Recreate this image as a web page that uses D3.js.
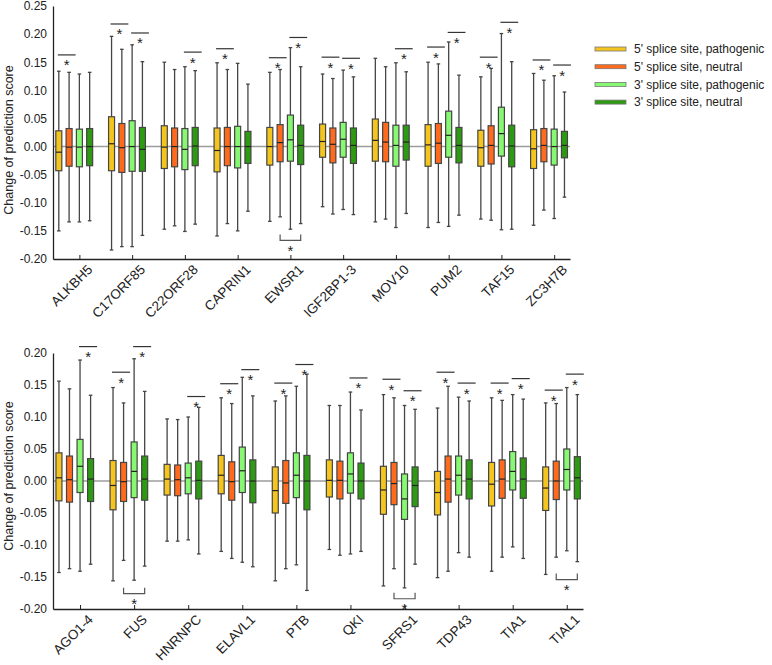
<!DOCTYPE html>
<html>
<head>
<meta charset="utf-8">
<script src="https://cdn.jsdelivr.net/npm/d3@7"></script>
<style>
  body { margin: 0; background: #fff; }
  text { font-family: "Liberation Sans", Arial, sans-serif; fill: #222; }
</style>
</head>
<body>
<div id="chart"></div>
<script>
// each box: [lower whisker, q1, median, q3, upper whisker]
var seriesNames = ["5' splice site, pathogenic", "5' splice site, neutral",
                   "3' splice site, pathogenic", "3' splice site, neutral"];

var topGenes = ["ALKBH5", "C17ORF85", "C22ORF28", "CAPRIN1", "EWSR1",
                "IGF2BP1-3", "MOV10", "PUM2", "TAF15", "ZC3H7B"];
var top5Path = [[-0.150,-0.043,-0.010,0.028,0.134],[-0.184,-0.043,0.005,0.053,0.196],[-0.147,-0.039,-0.001,0.037,0.150],
                [-0.159,-0.045,-0.007,0.033,0.149],[-0.133,-0.033,0.000,0.034,0.132],[-0.107,-0.019,0.009,0.040,0.129],
                [-0.134,-0.026,0.011,0.049,0.157],[-0.144,-0.035,0.003,0.039,0.150],[-0.129,-0.035,-0.002,0.029,0.124],
                [-0.140,-0.039,-0.004,0.030,0.130]];
var top5Neut = [[-0.134,-0.035,-0.001,0.032,0.132],[-0.178,-0.046,-0.002,0.041,0.173],[-0.141,-0.036,0.000,0.033,0.137],
                [-0.137,-0.034,0.000,0.034,0.137],[-0.125,-0.027,0.007,0.039,0.137],[-0.120,-0.029,0.004,0.033,0.121],
                [-0.129,-0.027,0.008,0.043,0.142],[-0.135,-0.030,0.006,0.041,0.147],[-0.131,-0.031,0.002,0.037,0.139],
                [-0.113,-0.027,0.002,0.032,0.118]];
var top3Path = [[-0.134,-0.036,-0.001,0.031,0.129],[-0.178,-0.044,0.000,0.046,0.181],[-0.151,-0.041,-0.005,0.032,0.142],
                [-0.150,-0.038,0.000,0.036,0.148],[-0.147,-0.026,0.012,0.056,0.176],[-0.112,-0.019,0.013,0.043,0.136],
                [-0.144,-0.035,0.002,0.038,0.149],[-0.142,-0.019,0.020,0.063,0.186],[-0.148,-0.017,0.023,0.070,0.201],
                [-0.128,-0.033,0.000,0.031,0.126]];
var top3Neut = [[-0.132,-0.034,0.000,0.032,0.132],[-0.158,-0.044,-0.005,0.034,0.151],[-0.138,-0.034,0.001,0.034,0.135],
                [-0.115,-0.030,0.000,0.027,0.111],[-0.137,-0.032,0.002,0.038,0.142],[-0.121,-0.030,0.002,0.033,0.124],
                [-0.119,-0.024,0.008,0.038,0.133],[-0.122,-0.029,0.002,0.034,0.127],[-0.147,-0.036,0.001,0.038,0.151],
                [-0.090,-0.020,0.002,0.027,0.097]];
// significance marks: bar level over 5' pair, over 3' pair, bracket under neutral pair
var topSig5 = [0.163, 0.218, null, 0.174, 0.158, 0.159, null, 0.177, 0.159, 0.154];
var topSig3 = [null, 0.202, 0.168, null, 0.194, 0.157, 0.174, 0.203, 0.221, 0.145];
var topBracket = [null, null, null, null, -0.167, null, null, null, null, null];

var botGenes = ["AGO1-4", "FUS", "HNRNPC", "ELAVL1", "PTB",
                "QKI", "SFRS1", "TDP43", "TIA1", "TIAL1"];
var bot5Path = [[-0.143,-0.031,0.005,0.044,0.156],[-0.156,-0.045,-0.007,0.032,0.146],[-0.094,-0.022,0.003,0.026,0.097],
                [-0.110,-0.020,0.009,0.040,0.130],[-0.156,-0.050,-0.015,0.022,0.125],[-0.107,-0.025,0.001,0.033,0.118],
                [-0.164,-0.052,-0.014,0.023,0.135],[-0.151,-0.053,-0.018,0.015,0.114],[-0.141,-0.039,-0.005,0.029,0.130],
                [-0.146,-0.046,-0.011,0.022,0.122]];
var bot5Neut = [[-0.137,-0.033,0.002,0.039,0.144],[-0.124,-0.032,-0.001,0.029,0.122],[-0.094,-0.023,0.002,0.025,0.096],
                [-0.121,-0.030,-0.001,0.030,0.121],[-0.137,-0.035,-0.003,0.032,0.133],[-0.116,-0.028,0.001,0.031,0.118],
                [-0.137,-0.037,-0.004,0.029,0.130],[-0.141,-0.033,0.003,0.039,0.148],[-0.119,-0.027,0.003,0.033,0.126],
                [-0.119,-0.029,0.000,0.031,0.121]];
var bot3Path = [[-0.141,-0.018,0.023,0.065,0.189],[-0.155,-0.026,0.015,0.061,0.191],[-0.092,-0.020,0.005,0.028,0.100],
                [-0.127,-0.018,0.016,0.053,0.162],[-0.131,-0.026,0.009,0.044,0.148],[-0.114,-0.019,0.011,0.044,0.139],
                [-0.167,-0.060,-0.028,0.011,0.118],[-0.112,-0.022,0.009,0.039,0.131],[-0.103,-0.014,0.015,0.046,0.135],
                [-0.109,-0.014,0.018,0.050,0.146]];
var bot3Neut = [[-0.130,-0.032,0.003,0.035,0.134],[-0.133,-0.030,0.003,0.039,0.140],[-0.114,-0.028,0.001,0.031,0.115],
                [-0.134,-0.034,0.000,0.033,0.133],[-0.171,-0.045,0.000,0.040,0.167],[-0.110,-0.028,0.000,0.028,0.111],
                [-0.130,-0.040,-0.007,0.022,0.112],[-0.119,-0.028,0.003,0.033,0.125],[-0.121,-0.027,0.003,0.036,0.128],
                [-0.126,-0.028,0.005,0.038,0.135]];
var botSig5 = [null, 0.170, null, 0.152, 0.153, null, 0.159, 0.170, 0.153, 0.142];
var botSig3 = [0.210, 0.210, 0.132, 0.174, 0.182, 0.161, 0.141, 0.153, 0.160, 0.167];
var botBracket = [null, -0.176, null, null, null, null, -0.184, null, null, -0.154];

var topTicks = [-0.20, -0.15, -0.10, -0.05, 0.00, 0.05, 0.10, 0.15, 0.20, 0.25];
var botTicks = [-0.20, -0.15, -0.10, -0.05, 0.00, 0.05, 0.10, 0.15, 0.20];

var colors = ["#F3C51E", "#FF6A1C", "#86F871", "#2D9B12"];
var offsets = [-0.39, -0.195, 0, 0.195];   // box position inside a group, in category units
var boxW = 6;
var lineCol = "#454545";

var svg = d3.select("#chart").append("svg")
  .attr("width", 772)
  .attr("height", 665);

function drawPanel(p) {
  var g = svg.append("g");
  var x = d3.scaleLinear().domain([0.5, 10.3]).range(p.xRange);
  var y = d3.scaleLinear().domain(p.yDomain).range(p.yRange);

  // zero line
  g.append("line")
    .attr("x1", x(0.5)).attr("x2", x(10.3))
    .attr("y1", y(0)).attr("y2", y(0))
    .attr("stroke", "#9c9c9c").attr("stroke-width", 1.5);

  // y axis
  var yAxis = g.append("g")
    .attr("transform", `translate(${x(0.5)},0)`)
    .call(d3.axisLeft(y).tickValues(p.yTicks).tickSize(0).tickPadding(6)
      .tickFormat(d => d.toFixed(2)));
  yAxis.select(".domain").attr("stroke", "#222").attr("stroke-width", 1.3);
  yAxis.selectAll("text").attr("font-size", 12).attr("font-family", "Liberation Sans, Arial, sans-serif").attr("fill", "#222");

  // x axis
  var xAxis = g.append("g")
    .attr("transform", `translate(0,${y(p.yDomain[0])})`)
    .call(d3.axisBottom(x).tickValues(d3.range(1, 11)).tickSizeInner(-4).tickSizeOuter(0)
      .tickFormat(d => p.genes[d - 1]));
  xAxis.select(".domain").attr("stroke", "#222").attr("stroke-width", 1.3);
  xAxis.selectAll(".tick line").attr("stroke", "#222");
  xAxis.selectAll("text")
    .attr("font-size", 13.5).attr("font-family", "Liberation Sans, Arial, sans-serif").attr("fill", "#222")
    .attr("text-anchor", "end")
    .attr("y", 0).attr("dy", "0.35em")
    .attr("transform", "translate(10,8) rotate(-45)");

  // boxes
  p.series.forEach(function(ser, s) {
    var boxes = g.selectAll(".box" + s)
      .data(ser)
      .enter()
      .append("g");
    boxes.each(function(d, i) {
      var cx = x(i + 1 + offsets[s]);
      var b = d3.select(this);
      b.append("line")
        .attr("x1", cx).attr("x2", cx)
        .attr("y1", y(d[0])).attr("y2", y(d[4]))
        .attr("stroke", lineCol).attr("stroke-width", 1.3);
      [d[0], d[4]].forEach(function(v) {
        b.append("line")
          .attr("x1", cx - 1.8).attr("x2", cx + 1.8)
          .attr("y1", y(v)).attr("y2", y(v))
          .attr("stroke", lineCol).attr("stroke-width", 1.3);
      });
      b.append("rect")
        .attr("x", cx - boxW / 2).attr("width", boxW)
        .attr("y", y(d[3])).attr("height", y(d[1]) - y(d[3]))
        .attr("fill", colors[s])
        .attr("stroke", lineCol).attr("stroke-width", 1.2);
      b.append("line")
        .attr("x1", cx - boxW / 2).attr("x2", cx + boxW / 2)
        .attr("y1", y(d[2])).attr("y2", y(d[2]))
        .attr("stroke", "#222").attr("stroke-width", 1.2);
    });
  });

  // significance bars above
  function star(cx, cy) {
    g.append("text")
      .attr("x", cx).attr("y", cy + 8.5)
      .attr("text-anchor", "middle")
      .attr("font-size", 15)
      .text("*");
  }
  [[p.sig5, 0, 1], [p.sig3, 2, 3]].forEach(function(sg) {
    sg[0].forEach(function(v, i) {
      if (v === null) return;
      var x1 = x(i + 1 + offsets[sg[1]]) - 1;
      var x2 = x(i + 1 + offsets[sg[2]]) + 6.5;
      g.append("line")
        .attr("x1", x1).attr("x2", x2)
        .attr("y1", y(v)).attr("y2", y(v))
        .attr("stroke", "#333").attr("stroke-width", 1.2);
      star((x1 + x2) / 2, y(v) + 7);
    });
  });

  // brackets below (5' neutral vs 3' neutral)
  p.bracket.forEach(function(v, i) {
    if (v === null) return;
    var x1 = x(i + 1 + offsets[1]);
    var x2 = x(i + 1 + offsets[3]);
    var yb = y(v);
    g.append("path")
      .attr("d", `M${x1},${yb - 6}V${yb}H${x2}V${yb - 6}`)
      .attr("fill", "none")
      .attr("stroke", "#555").attr("stroke-width", 1.2);
    star((x1 + x2) / 2, yb + 7);
  });

  // y label
  g.append("text")
    .attr("transform", `translate(13,${p.labelY}) rotate(-90)`)
    .attr("text-anchor", "middle")
    .attr("font-size", 12.5)
    .text("Change of prediction score");
}

drawPanel({
  genes: topGenes,
  series: [top5Path, top5Neut, top3Path, top3Neut],
  sig5: topSig5, sig3: topSig3, bracket: topBracket,
  yDomain: [-0.2, 0.25], yRange: [259, 6], yTicks: topTicks,
  xRange: [53, 570], labelY: 140
});

drawPanel({
  genes: botGenes,
  series: [bot5Path, bot5Neut, bot3Path, bot3Neut],
  sig5: botSig5, sig3: botSig3, bracket: botBracket,
  yDomain: [-0.2, 0.2], yRange: [609, 353], yTicks: botTicks,
  xRange: [53, 583], labelY: 476
});

// legend
var legend = svg.append("g").selectAll("g")
  .data(seriesNames)
  .enter()
  .append("g")
  .attr("transform", (d, i) => `translate(595,${49 + i * 17.7})`);
legend.append("rect")
  .attr("x", 0).attr("y", -2).attr("width", 31).attr("height", 4)
  .attr("fill", (d, i) => colors[i])
  .attr("stroke", "#777").attr("stroke-width", 0.8);
legend.append("text")
  .attr("x", 39).attr("dy", "0.35em")
  .attr("font-size", 12)
  .text(d => d);
</script>
</body>
</html>
